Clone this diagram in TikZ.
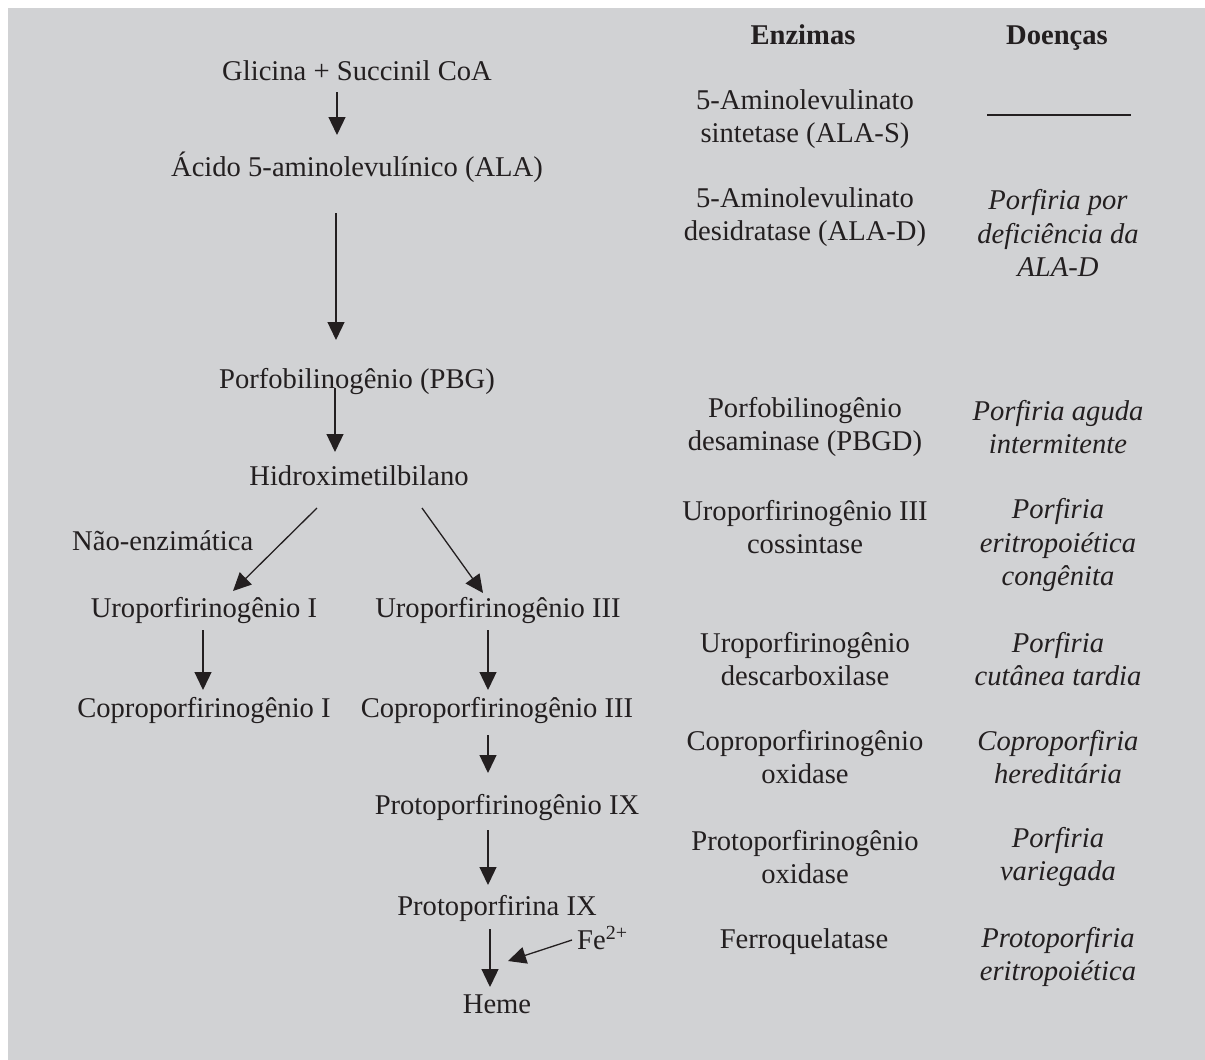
\documentclass[tikz,border=0pt]{standalone}
\usepackage{fontspec}
\setmainfont{Liberation Serif}
\usetikzlibrary{arrows.meta,calc}
\definecolor{ink}{HTML}{231F20}
\definecolor{panel}{HTML}{D1D2D4}
\tikzset{cpd/.style={text=ink,inner sep=0pt,anchor=base,font=\fontsize{28.6}{33.3}\selectfont},enz/.style={cpd,align=center,anchor=center},dis/.style={enz,font=\fontsize{28.6}{33.3}\selectfont\itshape},head/.style={cpd,font=\fontsize{28.6}{33.3}\selectfont\bfseries},arr/.style={-{Triangle[length=18pt,width=17pt]},draw=ink,line width=1.3pt}}
\begin{document}
\begin{tikzpicture}[x=1pt,y=-1pt]
\useasboundingbox (0,0) rectangle (1205,1060);
\fill[panel] (8,8) rectangle (1205,1060);

% pathway
\node[cpd] (gly) at (357,80) {Glicina + Succinil CoA};
\node[cpd] (ala) at (357,176) {Ácido 5-aminolevulínico (ALA)};
\node[cpd] (pbg) at (357,388) {Porfobilinogênio (PBG)};
\node[cpd] (hmb) at (359,485) {Hidroximetilbilano};
\node[cpd,anchor=base west] (nonenz) at (72,550) {Não-enzimática};
\node[cpd] (uro1) at (204,617) {Uroporfirinogênio I};
\node[cpd] (uro3) at (498,617) {Uroporfirinogênio III};
\node[cpd] (copro1) at (204,717) {Coproporfirinogênio I};
\node[cpd] (copro3) at (497,717) {Coproporfirinogênio III};
\node[cpd] (protogen) at (507,814) {Protoporfirinogênio IX};
\node[cpd] (proto) at (497,915) {Protoporfirina IX};
\node[cpd] (heme) at (497,1013) {Heme};
\node[cpd,anchor=base west] (fe) at (577,949) {Fe\textsuperscript{2+}};
\draw[arr] ($(gly.base)+(-20,12)$)--($(ala.base)+(-20,-41)$);
\draw[arr] ($(ala.base)+(-21,37)$)--($(pbg.base)+(-21,-48)$);
\draw[arr] ($(pbg.base)+(-22,0)$)--($(hmb.base)+(-24,-33)$);
\draw[arr] ($(hmb.base)+(-42,23)$)--($(uro1.base)+(29,-26)$);
\draw[arr] ($(hmb.base)+(63,23)$)--($(uro3.base)+(-15,-24)$);
\draw[arr] ($(uro1.base)+(-1,13)$)--($(copro1.base)+(-1,-27)$);
\draw[arr] ($(uro3.base)+(-10,13)$)--($(copro3.base)+(-9,-27)$);
\draw[arr] ($(copro3.base)+(-9,18)$)--($(protogen.base)+(-19,-41)$);
\draw[arr] ($(protogen.base)+(-19,16)$)--($(proto.base)+(-9,-30)$);
\draw[arr] ($(proto.base)+(-7,14)$)--($(heme.base)+(-7,-26)$);
\draw[arr] ($(fe.base west)+(-5,-9)$)--($(heme.base)+(11,-52)$);

% enzimas
\node[head] (henz) at (803,44) {Enzimas};
\node[enz] (alas) at (805,119) {5-Aminolevulinato\\sintetase (ALA-S)};
\node[enz] (alad) at (805,217) {5-Aminolevulinato\\desidratase (ALA-D)};
\node[enz] (pbgd) at (805,427) {Porfobilinogênio\\desaminase (PBGD)};
\node[enz] (uros) at (805,527) {Uroporfirinogênio III\\cossintase};
\node[enz] (urod) at (805,659) {Uroporfirinogênio\\descarboxilase};
\node[enz] (cpox) at (805,757) {Coproporfirinogênio\\oxidase};
\node[enz] (ppox) at (805,857) {Protoporfirinogênio\\oxidase};
\node[cpd] (fech) at (804,948) {Ferroquelatase};

% doencas
\node[head] (hdis) at (1057,44) {Doenças};
\draw[ink,line width=2pt] (987,115) -- (1131,115);
\node[dis] (dalad) at (1058,233) {Porfiria por\\deficiência da\\ALA-D};
\node[dis] (daip) at (1058,427) {Porfiria aguda\\intermitente};
\node[dis] (dcep) at (1058,545) {Porfiria\\eritropoiética\\congênita};
\node[dis] (dpct) at (1058,659) {Porfiria\\cutânea tardia};
\node[dis] (dhcp) at (1058,757) {Coproporfiria\\hereditária};
\node[dis] (dvp) at (1058,857) {Porfiria\\variegada};
\node[dis] (depp) at (1058,957) {Protoporfiria\\eritropoiética};
\end{tikzpicture}
\end{document}
